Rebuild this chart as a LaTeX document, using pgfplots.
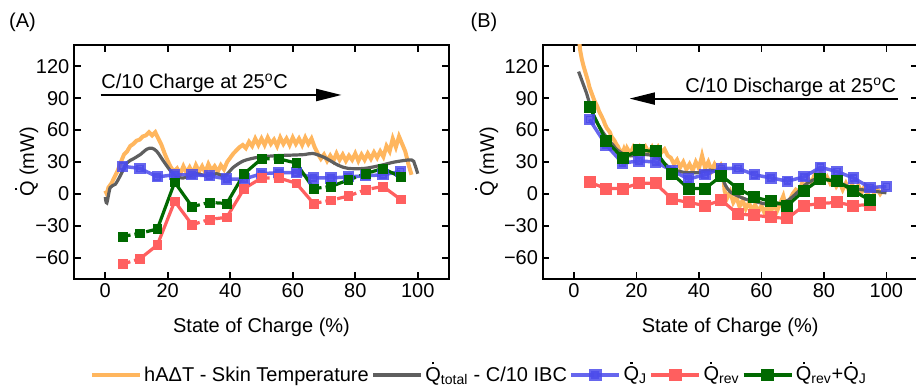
\documentclass[border=0pt]{standalone}
\usepackage{fontspec}
\setmainfont{Liberation Sans}
\usepackage{pgfplots}
\pgfplotsset{compat=1.18}
\usetikzlibrary{arrows.meta}

\definecolor{cOr}{RGB}{255,182,94}
\definecolor{cGr}{RGB}{95,95,95}
\definecolor{cBl}{RGB}{75,75,235}
\definecolor{cRd}{RGB}{255,95,95}
\definecolor{cGn}{RGB}{0,105,0}

\newcommand\Qd{\leavevmode\hbox{\ooalign{Q\cr\hidewidth\raisebox{0.84em}{\rule{0.11em}{0.11em}}\hidewidth\cr}}}
\newcommand\fs{\fontsize{15}{18}\selectfont}

\pgfplotsset{
  panel/.style={
    scale only axis, width=281.25pt, height=175.5pt,
    xmin=-10,xmax=110,ymin=-80,ymax=140,
    xtick={0,20,...,100},
    ytick={-60,-30,0,30,60,90,120},
    yticklabels={−60,−30,0,30,60,90,120},
    tick align=inside, major tick length=5pt,
    axis line style={line width=1.4pt},
    major tick style={black,line width=1.2pt},
    /pgf/number format/assume math mode=true,
    tick label style={font=\fs},
    label style={font=\fs},
    xlabel={State of Charge (\%)},
    ylabel={\Qd{} (mW)},
    x label style={at={(axis description cs:0.5,-0.205)},anchor=center},
    unbounded coords=jump,
    legend image code/.code={\draw[mark repeat=2,mark phase=2,#1] plot coordinates {(0pt,0pt) (18pt,0pt) (36pt,0pt)};},
  },
  orl/.style={cOr, line width=3pt, mark=none, line join=miter},
  grl/.style={cGr, line width=2.4pt, mark=none, smooth},
  bll/.style={cBl, opacity=0.85, line width=2.6pt, mark=square*, mark size=2.9pt},
  rdl/.style={cRd, line width=2.4pt},
  rdm/.style={cRd, only marks, mark=square*, mark size=3.3pt},
  gnl/.style={cGn, line width=2.4pt},
  gnm/.style={cGn, only marks, mark=square*, mark size=3.3pt},
  dsh/.style={dash pattern=on 6pt off 3pt},
}

\begin{document}
\begin{tikzpicture}
\path[use as bounding box] (0,0) rectangle (687pt,-294pt);

% ---------------- Panel A ----------------
\begin{axis}[panel, at={(55.5pt,-33.75pt)}, anchor=north west,
  ylabel style={at={(axis description cs:-0.12,0.5)},anchor=center},
  legend style={at={(1.08,-0.41)}, anchor=center, draw=none, fill=none, font=\fs,
    legend columns=5, /tikz/every even column/.append style={column sep=0pt},
    nodes={inner xsep=1.5pt}},
]
\addplot[orl, forget plot] coordinates {
(0,3)(0.5,0)(1,6)(2,10)(3,16)(4,22)(5,30)(6,37)(7,40)(8,45)(9,47)(10,50)(11,51)(12,54)(13,55)(14,58)(15,55)(16,58)(17,52)(18,46)(19,38)(20,31)(21,25)(22,21)(23,24)(24,19)(25,26)(26,20)(27,25)(28,19)(29,27)(30,21)(31,26)(32,20)(33,28)(34,22)(35,26)(36,21)(37,27)(38,23)(39,30)(40,34)(41,38)(42,41)(43,44)(44,46)(45,43)(46,49)(47,45)(48,52)(49,46)(50,52)(51,46)(52,53)(53,47)(54,51)(55,45)(56,53)(57,47)(58,52)(59,46)(60,53)(61,47)(62,52)(63,46)(64,53)(65,47)(66,52)(67,44)(68,38)(69,33)(70,37)(71,31)(72,36)(73,31)(74,38)(75,32)(76,37)(77,31)(78,36)(79,32)(80,38)(81,31)(82,37)(83,32)(84,38)(85,33)(86,39)(87,34)(88,40)(89,35)(90,45)(91,40)(92,52)(93,44)(94,54)(95,47)(96,40)(97,28)(98,18)
};
\addplot[grl, forget plot] coordinates {
(0,-3)(0.5,-8.5)(1.6,6)(3.2,9)(4.8,17)(6.9,29)(9,33)(11.2,37)(13.3,42)(14.9,43)(16.5,40)(18.6,31)(20.8,22)(22.9,16)(25,15)(27.2,17)(29.3,19)(32.5,17)(35.6,19)(38.3,17)(41,25)(44.2,31)(48,34)(50.6,35)(55,36)(60,36.5)(63.8,37)(66.5,38)(70.3,34)(74.5,27)(77.7,24)(83,24)(88.4,27)(92.6,30)(98,32)(99,28)(100,19)
};
\addplot[bll, forget plot] coordinates {
(5.56,26)(11.11,24)(16.67,16)(22.22,18)(27.78,18)(33.33,17)(38.89,14)(44.44,14)(50,19)(55.56,20)(61.11,20)(66.67,15)(72.22,15)(77.78,16)(83.33,17)(88.89,18)(94.44,21)
};
% red solid pieces
\addplot[rdl, forget plot] coordinates {
(11.11,-61)(16.67,-48)(22.22,-7)(27.78,-29)(30,nan)
(38.89,-22)(44.44,5)(50,15)(52,nan)
(55.56,15)(61.11,10)(66.67,-9)(68,nan)
(88.89,7)(94.44,-5)
};
% red dashed pieces
\addplot[rdl, dsh, forget plot] coordinates {
(5.56,-66)(11.11,-61)(13,nan)
(27.78,-29)(33.33,-24)(38.89,-22)(40,nan)
(50,15)(55.56,15)(57,nan)
(66.67,-9)(72.22,-6)(77.78,-2)(83.33,4)(88.89,7)
};
\addplot[rdm, forget plot] coordinates {
(5.56,-66)(11.11,-61)(16.67,-48)(22.22,-7)(27.78,-29)(33.33,-24)(38.89,-22)(44.44,5)(50,15)(55.56,15)(61.11,10)(66.67,-9)(72.22,-6)(77.78,-2)(83.33,4)(88.89,7)(94.44,-5)
};
% green solid pieces
\addplot[gnl, forget plot] coordinates {
(16.67,-33)(22.22,11)(27.78,-12)(30,nan)
(38.89,-9)(44.44,19)(50,33)(52,nan)
(55.56,33)(61.11,29)(66.67,5)(68,nan)
(72.22,7)(77.78,13)(79,nan)
(88.89,24)(94.44,16)
};
% green dashed pieces
\addplot[gnl, dsh, forget plot] coordinates {
(5.56,-40)(11.11,-37)(16.67,-33)(18,nan)
(27.78,-12)(33.33,-8)(38.89,-9)(40,nan)
(50,33)(55.56,33)(57,nan)
(66.67,5)(72.22,7)(74,nan)
(77.78,13)(83.33,19)(88.89,24)
};
\addplot[gnm, forget plot] coordinates {
(5.56,-40)(11.11,-37)(16.67,-33)(22.22,11)(27.78,-12)(33.33,-8)(38.89,-9)(44.44,19)(50,33)(55.56,33)(61.11,29)(66.67,5)(72.22,7)(77.78,13)(83.33,19)(88.89,24)(94.44,16)
};
\node[anchor=base west, font=\fs, inner sep=0pt] at (axis cs:-1.3,99.5) {C/10 Charge at 25\textsuperscript{o}C};
\draw[line width=1.5pt, -{Triangle[length=19pt,width=9pt]}] (axis cs:-1.5,93) -- (axis cs:75.6,93);

\addlegendimage{cOr, line width=3.5pt, mark=none}
\addlegendentry{hAΔT - Skin Temperature}
\addlegendimage{cGr, line width=3.5pt, mark=none}
\addlegendentry{\Qd\textsubscript{total} - C/10 IBC}
\addlegendimage{cBl, opacity=0.85, line width=3.5pt, mark=square*, mark size=3pt}
\addlegendentry{\Qd\textsubscript{J}}
\addlegendimage{cRd, line width=3.5pt, mark=square*, mark size=3pt}
\addlegendentry{\Qd\textsubscript{rev}}
\addlegendimage{cGn, line width=3.5pt, mark=square*, mark size=3pt}
\addlegendentry{\Qd\textsubscript{rev}+\Qd\textsubscript{J}}
\end{axis}

% ---------------- Panel B ----------------
\begin{axis}[panel, at={(407pt,-33.75pt)}, anchor=north west,
  ylabel style={at={(axis description cs:-0.143,0.5)},anchor=center},
]
\addplot[orl] coordinates {
(1.5,150)(2,135)(2.5,127)(3,121)(3.5,116)(4,111)(4.5,106)(5,100)(5.5,96)(6,92)(6.5,88)(7,85)(7.5,82)(8,78)(8.5,75)(9,72)(9.5,69)(10,65)(10.5,62)(11,60)(11.5,58)(12,54)(12.5,52)(13,50)(13.5,47)(14,45)(14.5,42)(15,40)(15.5,38)(16,42)(16.5,38)(17,43)(18,38)(19,44)(20,39)(21,44)(22,38)(23,44)(24,39)(25,44)(26,38)(27,44)(28,39)(29,42)(30,36)(31,34)(32,28)(33,32)(34,25)(35,30)(36,23)(37,28)(38,22)(39,30)(40,24)(41,36)(42,24)(43,30)(44,22)(45,28)(46,23)(47,27)(47.7,22)(48.2,3)(49,-4)(50,2)(51,-8)(52,-3)(53,-12)(54,-6)(55,-14)(56,-8)(57,-16)(58,-10)(59,-17)(60,-11)(61,-18)(62,-11)(63,-17)(64,-10)(65,-16)(66,-9)(67,-2)(68,-14)(69,-6)(70,0)(71,4)(72,2)(73,10)(74,7)(75,14)(76,10)(77,18)(78,13)(79,20)(80,12)(81,16)(82,10)(83,14)(84,7)(85,11)(86,4)(87,10)(88,3)(89,9)(90,2)(91,8)(92,1)(93,7)(94,0)(95,6)(96,1)(97,5)(98,0)(99,4)(100,2)
};
\addplot[grl] coordinates {
(1.5,115)(3,103)(4,95)(5,85)(6,76)(7,69)(8,64)(9.5,57)(11,51)(12.5,46)(13.6,42)(15,39)(16.8,36)(19,36)(21,37)(23,37)(25.3,36)(27,33)(28.5,30)(30,26)(31.7,23)(34,21)(36,20)(38,20)(40,20)(42.4,22)(44.5,22)(46,20)(47.5,15)(48.5,8)(50,2)(52.5,-2)(55,-5)(57.8,-7)(60.5,-9)(63.2,-10)(66,-9)(68.5,-6)(71,0)(73.8,8)(76.5,13)(79,15)(81.5,13)(84.3,11)(87,8)(89.6,5)(92,4)(94.9,3)(97.5,2)(100,1)
};
\addplot[bll] coordinates {
(5,70)(10.28,46)(15.56,29)(20.83,31)(26.11,30)(31.39,22)(36.67,14)(41.94,18)(47.22,24)(52.5,24)(57.78,18)(63.06,15)(68.33,12)(73.61,16)(78.89,25)(84.17,21)(89.44,15)(94.72,6)(100,7)
};
\addplot[rdl, mark=square*, mark size=3.3pt] coordinates {
(5,11)(10.28,5)(15.56,5)(20.83,10)(26.11,10)(31.39,-5)(36.67,-8)(41.94,-11)(47.22,-6)(52.5,-19)(57.78,-20)(63.06,-22)(68.33,-23)(73.61,-11)(78.89,-9)(84.17,-8)(89.44,-11)(94.72,-10)
};
\addplot[gnl, mark=square*, mark size=3.3pt] coordinates {
(5,82)(10.28,50)(15.56,34)(20.83,41)(26.11,40)(31.39,19)(36.67,5)(41.94,5)(47.22,17)(52.5,5)(57.78,-3)(63.06,-7)(68.33,-11)(73.61,3)(78.89,14)(84.17,12)(89.44,3)(94.72,-6)
};
\node[anchor=base east, font=\fs, inner sep=0pt] at (axis cs:103.2,95) {C/10 Discharge at 25\textsuperscript{o}C};
\draw[line width=1.5pt, -{Triangle[length=19pt,width=9pt]}] (axis cs:103.7,89.6) -- (axis cs:17.8,89.6);
\end{axis}

\node[font=\fs] at (16.9pt,-16.9pt) {(A)};
\node[font=\fs] at (363pt,-16.9pt) {(B)};
\end{tikzpicture}
\end{document}
